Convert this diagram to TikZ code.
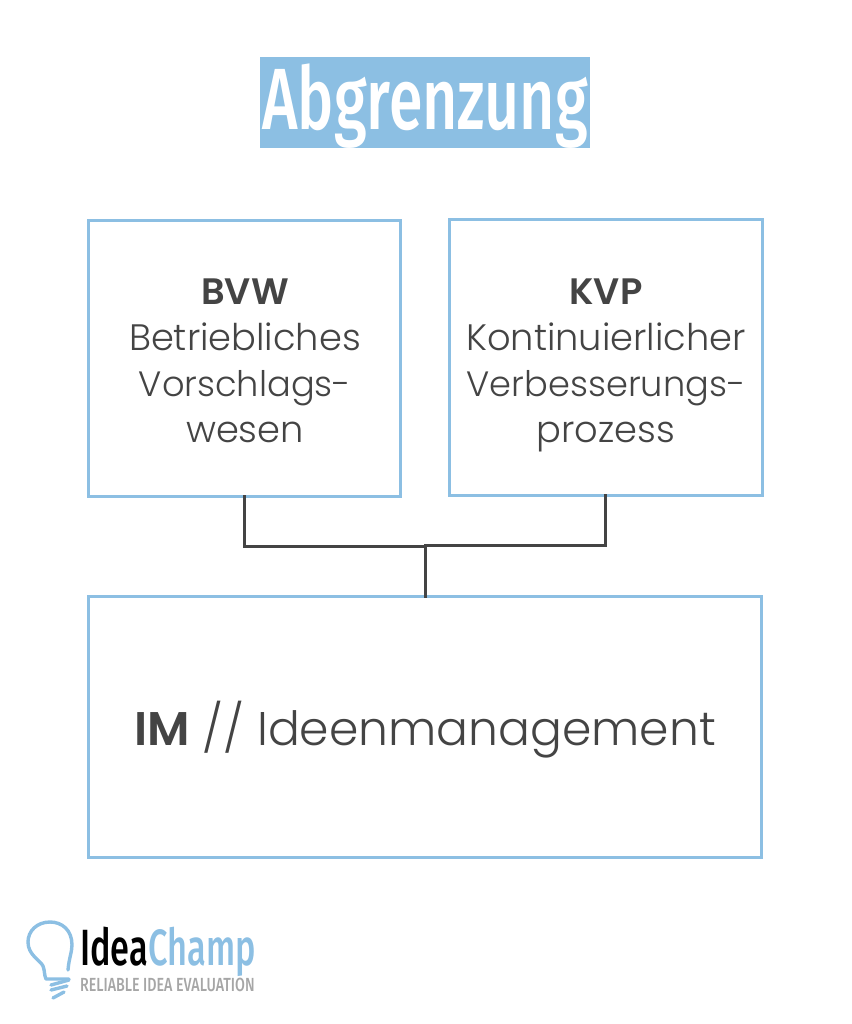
\documentclass[tikz,border=0pt]{standalone}
\usepackage{fontspec}
\setmainfont{Poppins Light}[BoldFont=Poppins SemiBold]
\newfontfamily\titlefont{Fira Sans Medium}[FakeStretch=0.70]
\newfontfamily\logofont{Fira Sans Medium}[FakeStretch=0.673]
\newfontfamily\tagfont{Fira Sans Medium}[FakeStretch=0.75]
\definecolor{ibl}{HTML}{8CBFE3}
\definecolor{idk}{HTML}{444444}
\definecolor{igr}{HTML}{A6A6A6}
\newcommand{\narrowline}[1]{{\fontsize{35.2}{46}\selectfont #1}}
\tikzset{
 boxnode/.style={draw=ibl,line width=3pt,inner sep=0pt,outer sep=0pt,minimum width=#1,anchor=north west,rectangle},
 link/.style={draw=idk,line width=2.8pt,line cap=rect},
 body/.style={text=idk,font=\fontsize{36.8}{46}\selectfont,align=center,inner sep=0pt},
 bulb/.style={draw=ibl,line width=3.4pt,line cap=round,line join=round},
}
\begin{document}
\begin{tikzpicture}[x=1pt,y=-1pt]
\useasboundingbox (0,0) rectangle (851,1024);
\node[fill=ibl,anchor=north west,minimum width=330pt,minimum height=91pt,inner sep=0pt] (titlebox) at (260,57) {};
\node[anchor=base,text=white,font=\titlefont\fontsize{87}{87}\selectfont,inner sep=0pt] (title) at (425,130) {Abgrenzung};
\node[boxnode=312.5pt,minimum height=275.5pt] (bvw) at (88,220.5) {};
\node[boxnode=312.5pt,minimum height=275.5pt] (kvp) at (449.5,219.5) {};
\node[boxnode=673.5pt,minimum height=260.5pt] (im) at (88,596.5) {};
\node[body] (bvwtext) at (245,364.5) {\strut\textbf{BVW}\\Betriebliches\\\narrowline{Vorschlags-}\\wesen\strut};
\node[body] (kvptext) at (606,364.5) {\strut\textbf{KVP}\\Kontinuierlicher\\\narrowline{Verbesserungs-}\\prozess\strut};
\node[anchor=base,text=idk,inner sep=0pt,font=\fontsize{47.2}{50}\selectfont] (imtext) at (425,745) {\textbf{IM} // Ideenmanagement};
\coordinate (jl) at (425.5,546.5);
\coordinate (jr) at (425.5,545.5);
\draw[link] (bvw.south) |- (jl);
\draw[link] (kvp.south) |- (jr);
\draw[link] (jr) -- (im.north -| jr);
% logo
\draw[bulb] (68,970) .. controls (69,958) and (72,952) .. (72,945)
 .. controls (72,930) and (62,922) .. (50,922)
 .. controls (37,922) and (28,931) .. (28,942)
 .. controls (28,955) and (40,960) .. (43,966)
 .. controls (45,971) and (44,975) .. (46,979)
 -- (69,979);
\draw[bulb] (51,985) -- (69,980);
\draw[bulb] (51,990) -- (67,986);
\draw[bulb] (53,998) -- (64,992);
\node[anchor=base west,inner sep=0pt,font=\logofont\fontsize{51}{51}\selectfont] (logoa) at (80,965) {Idea};
\node[anchor=base west,inner sep=0pt,text=ibl,font=\logofont\fontsize{51}{51}\selectfont] (logob) at (logoa.base east) {Champ};
\node[anchor=base west,inner sep=0pt,text=igr,font=\tagfont\fontsize{19}{19}\selectfont] (logoc) at (80,991.5) {RELIABLE IDEA EVALUATION};
\end{tikzpicture}
\end{document}
